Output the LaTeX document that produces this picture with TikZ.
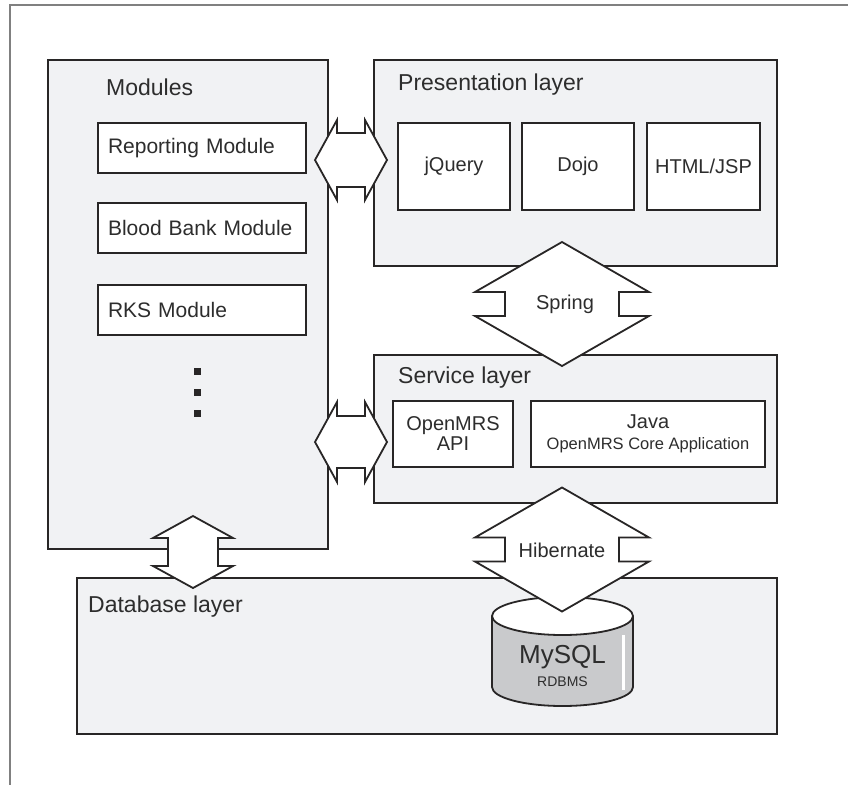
\documentclass[tikz,border=0pt]{standalone}
\usepackage{fontspec}
\setmainfont{Liberation Sans}
\definecolor{ln}{RGB}{40, 38, 38}
\definecolor{lay}{RGB}{241, 242, 244}
\definecolor{cyl}{RGB}{201, 202, 204}
\definecolor{frm}{RGB}{128, 128, 128}
\definecolor{txt}{RGB}{45, 45, 45}
\tikzset{
  pics/dbl/.style args={#1/#2/#3/#4}{code={
    \draw[arr] (-#1-#2,0) -- (-#1,-#3) -- (-#1,-#4) -- (#1,-#4) -- (#1,-#3) -- (#1+#2,0)
      -- (#1,#3) -- (#1,#4) -- (-#1,#4) -- (-#1,#3) -- cycle;
  }}
}

\begin{document}
\begin{tikzpicture}[x=1pt, y=-1pt,
  every node/.style={text=txt},
  layer/.style={rectangle, draw=ln, fill=lay, line width=1.8pt, inner sep=0pt},
  box/.style={rectangle, draw=ln, fill=white, line width=1.8pt, inner sep=0pt, font=\fontsize{20}{24}\selectfont},
  modbox/.style={box, text width=188pt, inner xsep=10pt, minimum height=50pt, align=left, font=\fontsize{21}{25}\selectfont},
  head/.style={anchor=base west, inner sep=0pt, font=\fontsize{23}{27}\selectfont},
  arr/.style={draw=ln, fill=white, line width=1.8pt, line join=miter}]
\useasboundingbox (0,0) rectangle (848,785);
% frame
\draw[frm, line width=1.5pt] (848,5) -- (10,5) -- (10,785);
% layers
\node (mods) [layer, minimum width=280pt, minimum height=489pt] at (188,304.5) {};
\node (pres) [layer, minimum width=403pt, minimum height=206pt] at (575.5,163) {};
\node (serv) [layer, minimum width=403pt, minimum height=148pt] at (575.5,429) {};
\node (db) [layer, minimum width=700pt, minimum height=156pt] at (427,656) {};
\node (modsl) [head] at (106,95) {Modules};
\node (presl) [head] at (398,90) {Presentation layer};
\node (servl) [head] at (398,383) {Service layer};
\node (dbl) [head] at (88,612) {Database layer};
% modules
\node (rep) [modbox] at (202,148) {Reporting Module};
\node (blood) [modbox] at (202,228) {Blood Bank Module};
\node (rks) [modbox] at (202,310) {RKS Module};
\foreach \y in {371,392,413}
  \fill[ln] (193.5,\y-3.5) rectangle ++(7,7);
% presentation
\node (jq) [box, minimum width=112pt, minimum height=87pt] at (454,166.5) {jQuery};
\node (dojo) [box, minimum width=112pt, minimum height=87pt] at (578,166.5) {Dojo};
\node (html) [box, minimum width=113pt, minimum height=87pt] at (703.5,166.5) {HTML/JSP};
% service
\node (api) [box, minimum width=120pt, minimum height=66pt, align=center] at (453,434) {OpenMRS\\[-4pt]API};
\node (java) [box, minimum width=234pt, minimum height=66pt, align=center] at (648,434)
  {Java\\[-3pt]{\fontsize{16.5}{19}\selectfont OpenMRS Core Application}};
% database
\draw[ln, fill=cyl, line width=1.8pt] (492,616) -- (492,687)
  arc[start angle=180, end angle=0, x radius=70.5, y radius=19] -- (633,616);
\draw[ln, fill=white, line width=1.8pt] (562.5,616) ellipse[x radius=70.5, y radius=19];
\draw[white, line width=3pt] (623,635) -- (623,690);
\node (mysql) [font=\fontsize{26}{29}\selectfont] at (562.5,657) {MySQL};
\node (rdbms) [font=\fontsize{14}{16}\selectfont] at (562.5,682) {RDBMS};
% connectors
\pic at (351,160) {dbl=14/22/40/27};
\pic at (351,442) {dbl=14/22/40/26};
\pic[rotate=90] at (193,552) {dbl=14/22/40/25};
\pic[rotate=90] at (562,304) {dbl=12/50/87/57};
\pic[rotate=90] at (562,549.5) {dbl=12/50/87/57};
\node (spring) [font=\fontsize{20}{24}\selectfont] at (565,304) {Spring};
\node (hib) [font=\fontsize{20}{24}\selectfont] at (562,550) {Hibernate};
\end{tikzpicture}
\end{document}
